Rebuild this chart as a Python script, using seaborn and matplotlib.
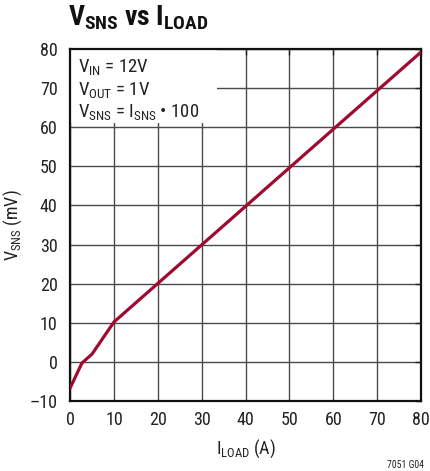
import matplotlib
matplotlib.use("Agg")
import matplotlib.pyplot as plt
from matplotlib import font_manager
from matplotlib.patches import Rectangle
import seaborn as sns
import pandas as pd

# Sense voltage versus load current
i_load = [0, 2.7, 5, 10, 80]          # A
v_sns = [-6.7, -0.3, 2.0, 10.2, 79.2]  # mV

x_ticks = [0, 10, 20, 30, 40, 50, 60, 70, 80]
y_ticks = [-10, 0, 10, 20, 30, 40, 50, 60, 70, 80]

sns.set_theme(style="white")

# prefer a condensed sans face when one is available
installed = {f.name for f in font_manager.fontManager.ttflist}
FONT = next(n for n in ["Liberation Sans Narrow", "Roboto Condensed",
                        "Liberation Sans", "DejaVu Sans"] if n in installed)
plt.rcParams["font.family"] = [FONT, "DejaVu Sans"]
plt.rcParams["mathtext.fontset"] = "custom"
plt.rcParams["mathtext.rm"] = FONT
plt.rcParams["mathtext.it"] = FONT
plt.rcParams["mathtext.bf"] = FONT + ":bold"
plt.rcParams["axes.unicode_minus"] = False

df = pd.DataFrame({"I_LOAD": i_load, "V_SNS": v_sns})

fig = plt.figure(figsize=(4.30, 4.71), dpi=100)
ax = fig.add_axes([0.163, 0.1486, 0.816, 0.7474])

sns.lineplot(data=df, x="I_LOAD", y="V_SNS", ax=ax, color="#9e0a30",
             linewidth=2.3, zorder=3)

ax.set_xlim(0, 80)
ax.set_ylim(-10, 80)
ax.set_xticks(x_ticks)
ax.set_yticks(y_ticks)
ax.set_xticklabels([str(t) for t in x_ticks])
ax.set_yticklabels(["\u201310" if t < 0 else str(t) for t in y_ticks])
ax.grid(True, color="#4a4a4a", linewidth=1.0)
ax.tick_params(axis="both", direction="in", length=4, width=1, color="#222222",
               labelsize=13, labelcolor="#222222", top=True, right=True)
ax.tick_params(axis="y", pad=9)
ax.tick_params(axis="x", pad=7)
for s in ax.spines.values():
    s.set_color("#111111")
    s.set_linewidth(1.6)

# white panel behind the operating-condition notes
ax.add_patch(Rectangle((0, 0.79), 0.418, 0.21, transform=ax.transAxes,
                       facecolor="white", edgecolor="none", zorder=2))
notes = [r"$\mathrm{V_{IN}}$ = 12V",
         r"$\mathrm{V_{OUT}}$ = 1V",
         r"$\mathrm{V_{SNS}}$ = $\mathrm{I_{SNS}}$ \u2022 100"]
notes = [n.replace("\\u2022", "\u2022") for n in notes]
for k, line in enumerate(notes):
    fig.text(78 / 430, 1 - (72 + 22.5 * k) / 471, line, fontsize=13.5,
             color="#222222", ha="left", va="baseline", zorder=4)

ax.set_xlabel(r"$\mathrm{I_{LOAD}}$ (A)", fontsize=13, color="#222222", labelpad=6)
ax.set_ylabel(r"$\mathrm{V_{SNS}}$ (mV)", fontsize=13, color="#222222", labelpad=4)

fig.text(68 / 430, 1 - 26 / 471, r"$\mathbf{V_{SNS}}$ vs $\mathbf{I_{LOAD}}$",
         fontsize=20, fontweight="bold", color="#111111", ha="left", va="baseline")
fig.text(424 / 430, 1 - 468 / 471, "7051 G04", fontsize=7, color="#222222",
         ha="right", va="baseline")

fig.savefig("out.png", dpi=100)
